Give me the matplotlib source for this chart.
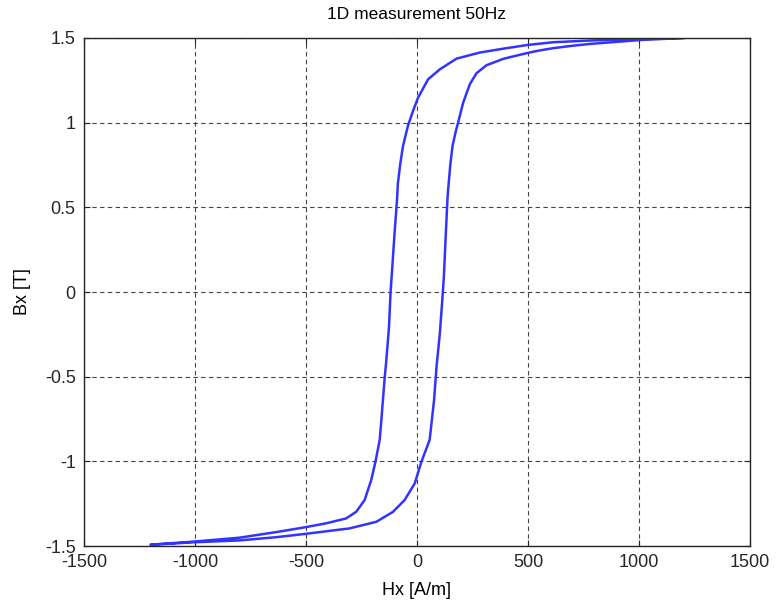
import matplotlib
matplotlib.use("Agg")
import matplotlib.pyplot as plt

plt.rcParams["font.family"] = ["Liberation Sans", "DejaVu Sans"]

# descending branch, H going from +Hmax to -Hmax
h_down = [1200, 1006, 780, 614, 499, 389, 283, 178, 103, 50, 5, -18, -41,
          -63, -75, -86, -90, -101, -111, -119, -126, -138, -145, -150, -160,
          -168, -187, -206, -236, -274, -319, -409, -507, -635, -801, -1006,
          -1200]
b_down = [1.500, 1.497, 1.485, 1.475, 1.459, 1.437, 1.414, 1.378, 1.315,
          1.256, 1.148, 1.069, 0.980, 0.862, 0.760, 0.642, 0.543, 0.347,
          0.150, 0.000, -0.205, -0.402, -0.500, -0.580, -0.750, -0.874,
          -1.002, -1.110, -1.229, -1.298, -1.337, -1.366, -1.390, -1.418,
          -1.451, -1.474, -1.492]

# ascending branch, H going from -Hmax back to +Hmax
h_up = [-1200, -1006, -801, -635, -507, -304, -183, -108, -56, -10, 20, 57,
        77, 88, 103, 115, 121, 130, 137, 140, 150, 160, 175, 185, 208, 238,
        268, 313, 389, 499, 554, 614, 700, 780, 1006, 1200]
b_up = [-1.493, -1.478, -1.467, -1.448, -1.429, -1.396, -1.357, -1.298,
        -1.229, -1.130, -1.002, -0.874, -0.638, -0.441, -0.244, -0.028, 0.090,
        0.347, 0.543, 0.600, 0.750, 0.862, 0.950, 1.000, 1.118, 1.227, 1.292,
        1.339, 1.377, 1.412, 1.427, 1.440, 1.454, 1.465, 1.488, 1.500]

h_ticks = [-1500, -1000, -500, 0, 500, 1000, 1500]
b_ticks = [-1.5, -1, -0.5, 0, 0.5, 1, 1.5]
b_tick_labels = ["-1.5", "-1", "-0.5", "0", "0.5", "1", "1.5"]

fig = plt.figure(figsize=(7.76, 6.04), dpi=100)
ax = fig.add_axes([0.1082, 0.0960, 0.8583, 0.8411])

line_color = "#3333ff"
ax.plot(h_down + h_up, b_down + b_up, color=line_color, linewidth=1.8)

ax.set_xlim(-1500, 1500)
ax.set_ylim(-1.5, 1.5)
ax.set_xticks(h_ticks)
ax.set_xticklabels([str(t) for t in h_ticks])
ax.set_yticks(b_ticks)
ax.set_yticklabels(b_tick_labels)
ax.tick_params(direction="in", length=4, width=0.8, labelsize=13,
               top=True, right=True, pad=6, colors="#262626")
for s in ax.spines.values():
    s.set_color("#262626")
    s.set_linewidth(1.0)

ax.grid(True, color="#444444", linestyle=(0, (4, 3)), linewidth=0.8)

ax.set_title("1D measurement 50Hz", fontsize=12.5, pad=14)
ax.set_xlabel("Hx [A/m]", fontsize=13, labelpad=8)
ax.set_ylabel("Bx [T]", fontsize=13, labelpad=10)

fig.savefig("out.png", dpi=100)
